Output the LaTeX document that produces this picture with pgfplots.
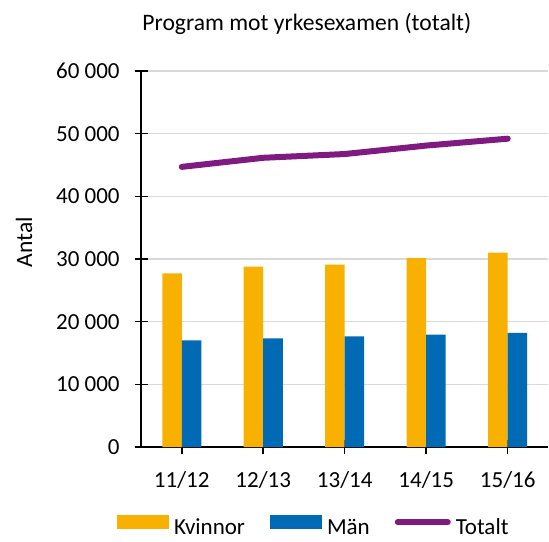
\documentclass[border=0pt]{standalone}
\usepackage{fontspec}
\setmainfont{Carlito}
\usepackage{pgfplots}
\pgfplotsset{compat=1.18}
\definecolor{kv}{HTML}{F8B100}
\definecolor{man}{HTML}{006AB4}
\definecolor{tot}{HTML}{7E1A80}
\definecolor{gridc}{HTML}{D9D9D9}
\begin{document}
\fontsize{23}{28}\selectfont
\begin{tikzpicture}
\path[use as bounding box] (0,0) rectangle (549pt,541pt);
\begin{axis}[
  at={(141pt,94pt)}, anchor=south west,
  scale only axis, width=407.5pt, height=376pt,
  xmin=-0.5, xmax=4.5, ymin=0, ymax=60000,
  scaled y ticks=false,
  axis x line*=bottom, axis y line*=left,
  axis line style={line width=1.5pt, black},
  xtick={0,1,2,3,4}, xticklabels={11/12,12/13,13/14,14/15,15/16},
  ytick={0,10000,20000,30000,40000,50000,60000},
  yticklabels={0,10 000,20 000,30 000,40 000,50 000,60 000},
  xticklabel style={yshift=-10pt},
  yticklabel style={xshift=-7pt},
  tick align=center, major tick length=13pt,
  tick style={line width=1.5pt, black},
  ymajorgrids, grid style={line width=1.3pt, gridc},
  title={\fontsize{23.6}{28}\selectfont Program mot yrkesexamen (totalt)},
  title style={at={(axis description cs:0.407,1.093)}, anchor=base},
  ylabel={\fontsize{23.5}{28}\selectfont Antal},
  ylabel style={at={(axis description cs:-0.287,0.545)}, anchor=center},
  legend style={at={(axis description cs:0.423,-0.213)}, anchor=center,
    draw=none, fill=none, legend columns=3, inner sep=1pt,
    nodes={inner sep=1pt},
    /tikz/every even column/.append style={column sep=24pt}},
  legend cell align=left,
]
\addplot[ybar, bar width=19.5pt, bar shift=-9.75pt, fill=kv, draw=none,
  legend image code/.code={\fill[kv] (0pt,-1pt) rectangle (52pt,13pt);\path (56pt,0pt);}]
  coordinates {(0,27700) (1,28800) (2,29100) (3,30150) (4,31000)};
\addlegendentry{Kvinnor}
\addplot[ybar, bar width=19.5pt, bar shift=9.75pt, fill=man, draw=none,
  legend image code/.code={\fill[man] (0pt,-1pt) rectangle (52pt,13pt);\path (56pt,0pt);}]
  coordinates {(0,17000) (1,17350) (2,17650) (3,17950) (4,18200)};
\addlegendentry{Män}
\addplot[tot, line width=6pt, line cap=round, mark=none, sharp plot,
  legend image code/.code={\draw[tot, line width=6pt, line cap=round] (3pt,6pt) -- (53pt,6pt);\path (57pt,0pt);}]
  coordinates {(0,44700) (1,46150) (2,46750) (3,48100) (4,49200)};
\addlegendentry{Totalt}
\end{axis}
\end{tikzpicture}
\end{document}
